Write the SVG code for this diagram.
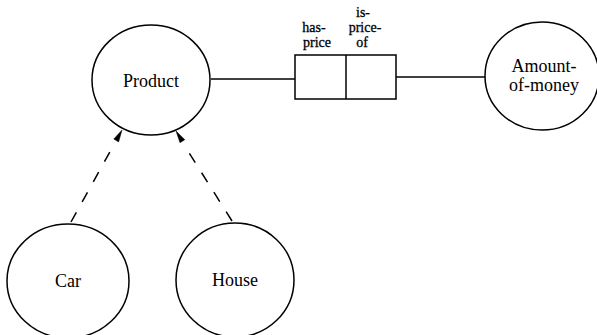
<svg xmlns="http://www.w3.org/2000/svg" width="597" height="335" viewBox="0 0 597 335">
<style>
.node{fill:#fff;stroke:#000;stroke-width:1.5}
.lbl{font-family:"Liberation Serif","Times New Roman",serif;font-size:18px;fill:#000;text-anchor:middle}
.sm{font-family:"Liberation Serif","Times New Roman",serif;font-size:14px;fill:#000;text-anchor:middle;stroke:#000;stroke-width:0.3}
.conn{stroke:#000;stroke-width:1.5;fill:none}
.dash{stroke:#000;stroke-width:1.5;fill:none;stroke-dasharray:11 12}
.head{fill:#000;stroke:#000;stroke-width:0.5}
</style>
<rect width="597" height="335" fill="#fff"/>
<g id="connectors">
<line class="conn" x1="211" y1="79" x2="295" y2="79"/>
<line class="conn" x1="396" y1="77" x2="485" y2="77"/>
<line class="dash" x1="71" y1="222" x2="109.8" y2="152"/>
<polygon class="head" points="122,130 113.8,139.1 118.6,141.9"/>
<line class="dash" x1="232" y1="221" x2="189.4" y2="153.3"/>
<polygon class="head" points="176,131 184.8,139.7 180,142.7"/>
</g>
<g id="relation">
<rect class="node" x="295" y="55" width="101" height="44"/>
<line class="conn" x1="346" y1="55" x2="346" y2="99"/>
<text class="sm" x="314" y="32">has-</text>
<text class="sm" x="317" y="47">price</text>
<text class="sm" x="363" y="17">is-</text>
<text class="sm" x="365" y="32">price-</text>
<text class="sm" x="362" y="47">of</text>
</g>
<g id="product">
<ellipse class="node" cx="151" cy="80" rx="59" ry="55"/>
<text class="lbl" x="151" y="87">Product</text>
</g>
<g id="amount">
<ellipse class="node" cx="542" cy="76" rx="57" ry="54"/>
<text class="lbl" x="544" y="72">Amount-</text>
<text class="lbl" x="544" y="91">of-money</text>
</g>
<g id="car">
<ellipse class="node" cx="68" cy="281" rx="61" ry="57"/>
<text class="lbl" x="68" y="287">Car</text>
</g>
<g id="house">
<ellipse class="node" cx="235" cy="280" rx="59" ry="57"/>
<text class="lbl" x="235" y="286">House</text>
</g>
</svg>
